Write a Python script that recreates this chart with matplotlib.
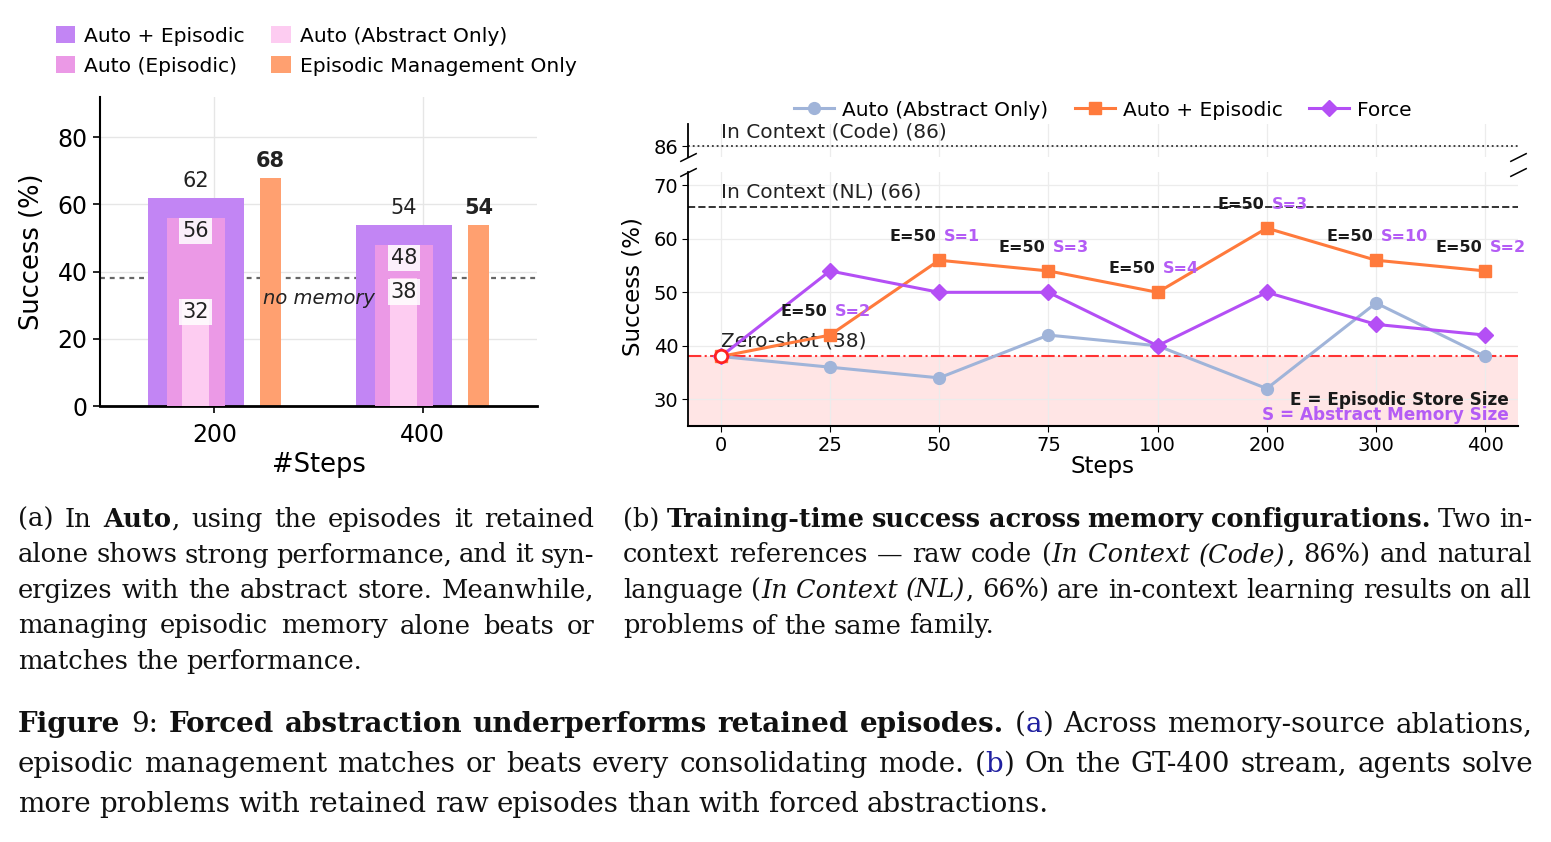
import numpy as np
import matplotlib
matplotlib.use("Agg")
import matplotlib.pyplot as plt
from matplotlib.transforms import IdentityTransform

# ---------------- data ----------------
# Panel (a)
bar_steps = ["200", "400"]
auto_episodic_bar = [62, 54]
auto_episodic_only = [56, 48]
auto_abstract_bar = [32, 38]
episodic_mgmt_only = [68, 54]
no_memory = 38

# Panel (b)
line_steps = ["0", "25", "50", "75", "100", "200", "300", "400"]
auto_abstract_line = [38, 36, 34, 42, 40, 32, 48, 38]
auto_episodic_line = [38, 42, 56, 54, 50, 62, 56, 54]
force_line = [38, 54, 50, 50, 40, 50, 44, 42]
episodic_sizes = [None, 50, 50, 50, 50, 50, 50, 50]
abstract_sizes = [None, 2, 1, 3, 4, 3, 10, 2]
in_context_code = 86
in_context_nl = 66
zero_shot = 38

caption_a = [
    "(a) In **Auto**, using the episodes it retained",
    "alone shows strong performance, and it syn-",
    "ergizes with the abstract store. Meanwhile,",
    "managing episodic memory alone beats or",
    "matches the performance.",
]
caption_b = [
    "(b) **Training-time success across memory configurations.** Two in-",
    "context references \u2014 raw code (*In Context (Code)*, 86%) and natural",
    "language (*In Context (NL)*, 66%) are in-context learning results on all",
    "problems of the same family.",
]
caption_fig = [
    "**Figure** 9: **Forced abstraction underperforms retained episodes.** ({a}) Across memory-source ablations,",
    "episodic management matches or beats every consolidating mode. ({b}) On the GT-400 stream, agents solve",
    "more problems with retained raw episodes than with forced abstractions.",
]

# ---------------- colours ----------------
C_AE = "#C285F4"
C_AEP = "#EB99E6"
C_ABS = "#FDCCF1"
C_EMO = "#FFA070"
L_ABS = "#A0B4D9"
L_AE = "#FF7A3C"
L_FORCE = "#B44FF5"
S_PURPLE = "#B45CF5"

W, H = 1551, 842
fig = plt.figure(figsize=(W / 100, H / 100), dpi=100)


def fig_rect(l, t, r, b):
    return [l / W, 1 - b / H, (r - l) / W, (b - t) / H]


# ================= Panel (a) =================
ax1 = fig.add_axes(fig_rect(100, 97, 537, 406))
x = np.arange(len(bar_steps))
ax1.bar(x - 0.09, auto_episodic_bar, 0.46, color=C_AE, zorder=2, label="Auto + Episodic")
ax1.bar(x - 0.09, auto_episodic_only, 0.28, color=C_AEP, zorder=3, label="Auto (Episodic)")
ax1.bar(x - 0.09, auto_abstract_bar, 0.13, color=C_ABS, zorder=4, label="Auto (Abstract Only)")
ax1.bar(x + 0.27, episodic_mgmt_only, 0.10, color=C_EMO, zorder=2, label="Episodic Management Only")
ax1.axhline(no_memory, color="#666666", lw=1.6, ls=(0, (2.2, 2.2)), zorder=1.5)
ax1.text(0.5, no_memory - 6, "no memory", style="italic", fontsize=14, ha="center",
         va="center", color="#222222", zorder=6)

for i in range(len(bar_steps)):
    ax1.annotate(str(auto_episodic_bar[i]), (x[i] - 0.09, auto_episodic_bar[i]),
                 xytext=(0, 5), textcoords="offset points", ha="center", va="bottom",
                 fontsize=15, color="#222222")
    ax1.annotate(str(episodic_mgmt_only[i]), (x[i] + 0.27, episodic_mgmt_only[i]),
                 xytext=(0, 5), textcoords="offset points", ha="center", va="bottom",
                 fontsize=15, fontweight="bold", color="#222222")
    for v in (auto_episodic_only[i], auto_abstract_bar[i]):
        ax1.text(x[i] - 0.09, v - 4, str(v), ha="center", va="center", fontsize=15,
                 color="#222222", zorder=6,
                 bbox=dict(boxstyle="square,pad=0.15", fc="white", ec="none", alpha=0.85))

ax1.set_xlim(-0.55, 1.55)
ax1.set_ylim(0, 92)
ax1.set_xticks(x, bar_steps)
ax1.set_yticks([0, 20, 40, 60, 80])
ax1.tick_params(labelsize=17, length=5, width=1.2, pad=7, axis="x")
ax1.tick_params(labelsize=17, length=5, width=1.2, pad=4, axis="y")
ax1.grid(True, color="#e6e6e6", lw=1, zorder=0)
ax1.set_axisbelow(True)
for s in ("top", "right"):
    ax1.spines[s].set_visible(False)
ax1.spines["left"].set_linewidth(1.5)
ax1.spines["bottom"].set_linewidth(2)
ax1.set_ylabel("Success (%)", fontsize=18.5)
ax1.yaxis.set_label_coords(-0.125, 0.5)
fig.text(319 / W, 1 - 465 / H, "#Steps", fontsize=18.5, ha="center", va="center")

h1, l1 = ax1.get_legend_handles_labels()
fig.legend(h1, l1, loc="upper left", bbox_to_anchor=(56 / W, 1 - 26 / H), ncol=2,
           frameon=False, fontsize=14.6, handlelength=0.95, handleheight=0.95,
           handletextpad=0.45, columnspacing=1.3, labelspacing=0.5,
           borderpad=0, borderaxespad=0)

# ================= Panel (b) =================
axt = fig.add_axes(fig_rect(688, 124, 1518, 157))
ax2 = fig.add_axes(fig_rect(688, 172, 1518, 426), sharex=axt)
xs = np.arange(len(line_steps))

for a in (axt, ax2):
    a.grid(True, color="#ececec", lw=0.9, zorder=0)
    a.set_axisbelow(True)
    for s in ("top", "right"):
        a.spines[s].set_visible(False)
    a.spines["left"].set_linewidth(1.3)

axt.spines["bottom"].set_visible(False)
axt.set_ylim(84, 90)
axt.set_yticks([in_context_code])
axt.tick_params(axis="x", which="both", bottom=False, labelbottom=False)
axt.tick_params(axis="y", labelsize=14, length=4, pad=3)
axt.axhline(in_context_code, color="#333333", ls=":", lw=1.3)
axt.annotate(f"In Context (Code) ({in_context_code})", (0, in_context_code), xytext=(0, 3),
             textcoords="offset points", ha="left", va="bottom", fontsize=14.5, color="#222222")

ax2.set_xlim(-0.3, 7.3)
ax2.set_ylim(25, 72.5)
ax2.set_yticks([30, 40, 50, 60, 70])
ax2.set_xticks(xs, line_steps)
ax2.tick_params(labelsize=14, length=4, pad=3)
ax2.spines["bottom"].set_linewidth(1.5)

ax2.axhspan(25, zero_shot, color="#ff0000", alpha=0.1, lw=0, zorder=0.5)
ax2.axhline(zero_shot, color="#ff3333", ls="-.", lw=1.5, zorder=1)
ax2.axhline(in_context_nl, color="#333333", ls="--", lw=1.4, zorder=1)
ax2.annotate(f"In Context (NL) ({in_context_nl})", (0, in_context_nl), xytext=(0, 4),
             textcoords="offset points", ha="left", va="bottom", fontsize=14.5, color="#222222")
ax2.annotate(f"Zero-shot ({zero_shot})", (0, zero_shot), xytext=(0, 4),
             textcoords="offset points", ha="left", va="bottom", fontsize=14.5, color="#222222")

ax2.plot(xs, auto_abstract_line, color=L_ABS, lw=2.2, marker="o", ms=8.5, zorder=3,
         label="Auto (Abstract Only)")
ax2.plot(xs, auto_episodic_line, color=L_AE, lw=2.2, marker="s", ms=8.5, zorder=4,
         label="Auto + Episodic")
ax2.plot(xs, force_line, color=L_FORCE, lw=2.2, marker="D", ms=8, zorder=4,
         label="Force")
ax2.plot([0], [zero_shot], "o", mfc="white", mec="#ff2222", mew=2, ms=9, zorder=6)

for i in range(1, len(xs)):
    ax2.annotate(f"E={episodic_sizes[i]}", (xs[i], auto_episodic_line[i]), xytext=(-2, 17),
                 textcoords="offset points", ha="right", va="center", fontsize=11.5,
                 fontweight="bold", color="#1a1a1a", zorder=7)
    ax2.annotate(f"S={abstract_sizes[i]}", (xs[i], auto_episodic_line[i]), xytext=(3.5, 17),
                 textcoords="offset points", ha="left", va="center", fontsize=11.5,
                 fontweight="bold", color=S_PURPLE, zorder=7)

ax2.text(0.989, 0.104, "E = Episodic Store Size", transform=ax2.transAxes, ha="right",
         va="center", fontsize=12.2, fontweight="bold", color="#1a1a1a")
ax2.text(0.989, 0.045, "S = Abstract Memory Size", transform=ax2.transAxes, ha="right",
         va="center", fontsize=12.2, fontweight="bold", color=S_PURPLE)

# break marks
d = 0.5
kw = dict(marker=[(-1, -d), (1, d)], markersize=12, linestyle="none", color="k",
          mec="k", mew=1.1, clip_on=False)
axt.plot([0, 1], [0, 0], transform=axt.transAxes, **kw)
ax2.plot([0, 1], [1, 1], transform=ax2.transAxes, **kw)

fig.text(633 / W, 1 - 287 / H, "Success (%)", rotation=90, fontsize=16.5, ha="center",
         va="center")
fig.text(1103 / W, 1 - 467 / H, "Steps", fontsize=16.5, ha="center", va="center")

h2, l2 = ax2.get_legend_handles_labels()
fig.legend(h2, l2, loc="center", bbox_to_anchor=(1103 / W, 1 - 110 / H), ncol=3,
           frameon=False, fontsize=14.5, handlelength=2.0, handletextpad=0.4,
           columnspacing=1.3, borderpad=0, borderaxespad=0)

# ================= captions =================
renderer = fig.canvas.get_renderer()
SERIF = "DejaVu Serif"
BLUE = "#1f1fa0"


def parse(line):
    chars = []
    bold = ital = blue = False
    i = 0
    while i < len(line):
        if line.startswith("**", i):
            bold = not bold
            i += 2
            continue
        c = line[i]
        if c == "*":
            ital = not ital
            i += 1
            continue
        if c == "{":
            blue = True
            i += 1
            continue
        if c == "}":
            blue = False
            i += 1
            continue
        chars.append((c, (bold, ital, blue)))
        i += 1
    words, cur = [], []
    for c, st in chars:
        if c == " ":
            if cur:
                words.append(cur)
                cur = []
        else:
            if cur and cur[-1][1] == st:
                cur[-1] = (cur[-1][0] + c, st)
            else:
                cur.append((c, st))
    if cur:
        words.append(cur)
    return words


def make_text(xp, yp, s, st, fs):
    bold, ital, blue = st
    return fig.text(xp, yp, s, transform=IdentityTransform(), fontsize=fs, family=SERIF,
                    fontweight="bold" if bold else "normal",
                    fontstyle="italic" if ital else "normal",
                    color=BLUE if blue else "#111111", ha="left", va="baseline")


def seg_width(s, st, fs):
    t = make_text(0, 0, s, st, fs)
    w = t.get_window_extent(renderer).width
    t.remove()
    return w


def word_width(word, fs):
    return sum(seg_width(s, st, fs) for s, st in word)


def fit_size(lines, x0, x1, n_just, fs):
    target = x1 - x0
    ratio = 10.0
    for li in range(n_just):
        words = parse(lines[li])
        wsum = sum(word_width(w, fs) for w in words)
        natural = wsum + (len(words) - 1) * 0.27 * fs * 100 / 72
        ratio = min(ratio, target / natural)
    return fs * ratio


def draw_block(lines, x0, x1, baselines, n_just, fs):
    target = x1 - x0
    for li, (line, yb) in enumerate(zip(lines, baselines)):
        words = parse(line)
        widths = [word_width(w, fs) for w in words]
        if li < n_just and len(words) > 1:
            gap = (target - sum(widths)) / (len(words) - 1)
        else:
            gap = 0.3 * fs * 100 / 72
        xp = x0
        ypix = H - yb
        for w, ww in zip(words, widths):
            xx = xp
            for s, st in w:
                make_text(xx, ypix, s, st, fs)
                xx += seg_width(s, st, fs)
            xp += ww + gap


blocks = [
    (caption_a, 18, 594, [527, 562.5, 598, 633.5, 669], 4),
    (caption_b, 623, 1532, [527, 562.5, 598, 633.5], 3),
    (caption_fig, 18, 1533, [732, 772, 812], 2),
]
for lines, x0, x1, bl, nj in blocks:
    fs_b = min(fit_size(lines, x0, x1, nj, 18.5), 20.0)
    draw_block(lines, x0, x1, bl, nj, fs_b)

fig.savefig("out.png", dpi=100)
